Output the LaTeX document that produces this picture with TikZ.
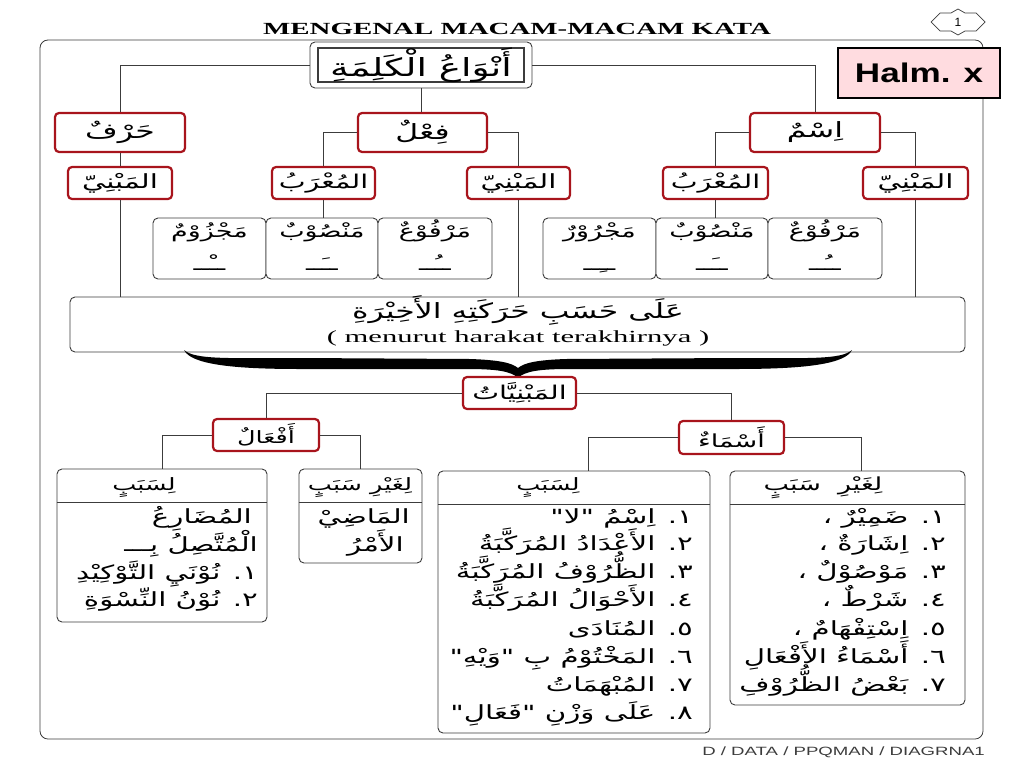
\documentclass[tikz,border=0pt]{standalone}
\usepackage{fontspec}
\setmainfont{Liberation Serif}
\newfontfamily\arabicfont[Script=Arabic,FakeStretch=1.5]{DejaVu Sans}
\newfontfamily\titlefont[FakeStretch=1.7]{Liberation Serif}
\newfontfamily\latinfont[FakeStretch=1.8]{Liberation Serif}
\newfontfamily\sansfont{Liberation Sans}
\TeXXeTstate=1
\usetikzlibrary{calc}
\definecolor{boxred}{HTML}{A8141C}
\definecolor{linegray}{HTML}{3C3C3C}
\definecolor{halmpink}{HTML}{FFDCE0}
\newcommand\AR[1]{{\arabicfont\beginR #1\endR}}
\newcommand\fs[1]{\fontsize{#1}{#1}\selectfont}
% box from corner (x1,y1) to (x2,y2)
\newcommand\BOX[7]{%
  \pgfmathsetmacro\BXw{#5-#3}\pgfmathsetmacro\BXh{#6-#4}%
  \pgfmathsetmacro\BXx{(#3+#5)/2}\pgfmathsetmacro\BXy{(#4+#6)/2}%
  \node[#1, minimum width=\BXw pt, minimum height=\BXh pt] (#2) at (\BXx,\BXy) {#7};}
\tikzset{
  redbox/.style={draw=boxred, line width=2.2pt, rounded corners=4pt, fill=white, inner sep=0pt},
  graybox/.style={draw=linegray, line width=0.9pt, rounded corners=5pt, fill=white, inner sep=0pt},
  conn/.style={draw=linegray, line width=0.9pt},
  artext/.style={inner sep=0pt, text height=12pt, text depth=5pt, font=\fs{17}},
  item/.style={artext, anchor=east, font=\fs{19.5}},
}
\begin{document}
\begin{tikzpicture}[x=1pt,y=-1pt]
\useasboundingbox (0,0) rectangle (1024,768);
% frame
\BOX{draw=linegray, line width=0.8pt, rounded corners=8pt, inner sep=0pt}{frame}{40}{40}{983}{739}{}
% title
\node (title) at (517,29) {\titlefont\bfseries\fs{17}MENGENAL MACAM-MACAM KATA};
% badge
\draw[linegray, line width=0.7pt, fill=white] (931,22) -- (940,13) -- (951,13) -- (958,9) -- (965,13) -- (976,13) -- (985,22) -- (976,31) -- (965,31) -- (958,35) -- (951,31) -- (940,31) -- cycle;
\node (badge) at (958,22) {\sansfont\fs{12}1};
% halm
\BOX{draw=black, line width=1.8pt, fill=halmpink, inner sep=0pt}{halm}{838}{48}{1000}{98}{\sansfont\bfseries\fs{27}\scalebox{1.3}[1]{Halm. x}}
% top box
\BOX{graybox}{kalimah}{310}{42}{532}{88}{}
\BOX{draw=linegray, line width=2pt, fill=white, inner sep=0pt, font=\fs{25}}{kalimahin}{318}{48}{524}{82}{\AR{أَنْوَاعُ الْكَلِمَةِ}}
% level 1
\BOX{redbox, font=\fs{21}}{harf}{55}{113}{185}{152}{\AR{حَرْفٌ}}
\BOX{redbox, font=\fs{21}}{fil}{358}{113}{487}{152}{\AR{فِعْلٌ}}
\BOX{redbox, font=\fs{21}}{ism}{750}{113}{880}{152}{\AR{اِسْمٌ}}
% level 2
\BOX{redbox, font=\fs{19.5}}{hmb}{68}{167}{172}{199}{\AR{المَبْنِيّ}}
\BOX{redbox, font=\fs{19}}{fmu}{272}{167}{375}{199}{\AR{المُعْرَبُ}}
\BOX{redbox, font=\fs{19.5}}{fmb}{467}{167}{570}{199}{\AR{المَبْنِيّ}}
\BOX{redbox, font=\fs{19}}{imu}{663}{167}{768}{199}{\AR{المُعْرَبُ}}
\BOX{redbox, font=\fs{19.5}}{imb}{863}{167}{968}{199}{\AR{المَبْنِيّ}}
% level 3 small boxes
\BOX{graybox}{fjz}{153}{218}{266}{279}{}
\BOX{graybox}{fns}{266}{218}{378}{279}{}
\BOX{graybox}{frf}{378}{218}{492}{279}{}
\BOX{graybox}{ijr}{543}{218}{656}{279}{}
\BOX{graybox}{ins}{656}{218}{768}{279}{}
\BOX{graybox}{irf}{768}{218}{882}{279}{}
\tikzset{smw/.style={artext, font=\fs{18}}, smd/.style={artext, font=\fs{18}}}
\node[smw] (fjzw) at ($(fjz.north)+(0,16)$) {\AR{مَجْزُوْمٌ}};
\node[smw] (fnsw) at ($(fns.north)+(0,16)$) {\AR{مَنْصُوْبٌ}};
\node[smw] (frfw) at ($(frf.north)+(0,16)$) {\AR{مَرْفُوْعٌ}};
\node[smw] (ijrw) at ($(ijr.north)+(0,16)$) {\AR{مَجْرُوْرٌ}};
\node[smw] (insw) at ($(ins.north)+(0,16)$) {\AR{مَنْصُوْبٌ}};
\node[smw] (irfw) at ($(irf.north)+(0,16)$) {\AR{مَرْفُوْعٌ}};
\node[smd] (fjzd) at ($(fjz.south)+(0,-12)$) {\AR{ــْــ}};
\node[smd] (fnsd) at ($(fns.south)+(0,-12)$) {\AR{ــَــ}};
\node[smd] (frfd) at ($(frf.south)+(0,-12)$) {\AR{ــُــ}};
\node[smd] (ijrd) at ($(ijr.south)+(0,-12)$) {\AR{ــِــ}};
\node[smd] (insd) at ($(ins.south)+(0,-12)$) {\AR{ــَــ}};
\node[smd] (irfd) at ($(irf.south)+(0,-12)$) {\AR{ــُــ}};
% big box
\BOX{graybox}{big}{70}{297}{965}{352}{}
\node[artext, font=\fs{21}] (bigar) at (518,315) {\AR{عَلَى حَسَبِ حَرَكَتِهِ الأَخِيْرَةِ}};
\node[inner sep=0pt] (biglat) at (518,338) {\latinfont\fs{17}( menurut harakat terakhirnya )};
% connectors top part
\draw[conn] (kalimah.west) -| (harf.north);
\draw[conn] (kalimah.east) -| (ism.north);
\draw[conn] (kalimah.south) -- (kalimah.south |- fil.north);
\draw[conn] (harf.south) -- (harf.south |- hmb.north);
\draw[conn] (hmb.south) -- (hmb.south |- big.north);
\draw[conn] (fil.west) -| (fmu.north);
\draw[conn] (fil.east) -| (fmb.north);
\draw[conn] (fmu.south) -- (fmu.south |- fns.north);
\draw[conn] (fmb.south) -- (fmb.south |- big.north);
\draw[conn] (ism.west) -| (imu.north);
\draw[conn] (ism.east) -| (imb.north);
\draw[conn] (imu.south) -- (imu.south |- ins.north);
\draw[conn] (imb.south) -- (imb.south |- big.north);
% brace
\fill[black] (184,350) .. controls (195,360) and (230,358) .. (300,358) -- (470,359)
  .. controls (500,360) and (512,363) .. (518,368)
  .. controls (524,363) and (536,360) .. (566,359) -- (736,358)
  .. controls (806,358) and (841,360) .. (852,350)
  .. controls (845,364) and (806,369) .. (736,369) -- (570,369)
  .. controls (540,369) and (525,371) .. (518,378)
  .. controls (511,371) and (496,369) .. (466,369) -- (300,369)
  .. controls (230,369) and (191,364) .. (184,350) -- cycle;
% mabniyyat
\BOX{redbox, font=\fs{19}}{mabn}{463}{377}{576}{409}{\AR{المَبْنِيَّاتُ}}
\BOX{redbox, font=\fs{17}}{afal}{213}{419}{319}{451}{\AR{أَفْعَالٌ}}
\BOX{redbox, font=\fs{18}}{asma}{679}{421}{784}{454}{\AR{أَسْمَاءٌ}}
\draw[conn] (mabn.west) -| (afal.north);
\draw[conn] (mabn.east) -| (asma.north);
% cards
\BOX{graybox}{fsab}{57}{469}{267}{622}{}
\BOX{graybox}{fgh}{299}{469}{422}{563}{}
\BOX{graybox}{isab}{438}{471}{710}{733}{}
\BOX{graybox}{igh}{730}{471}{965}{705}{}
\draw[conn] (afal.west) -| (fsab.north);
\draw[conn] (afal.east) -| (fgh.north);
\draw[conn] (asma.west) -| ($(isab.north)+(14,0)$);
\draw[conn] (asma.east) -| ($(igh.north)+(14,0)$);
\foreach \c in {fsab,fgh,isab,igh}{
  \draw[conn] ($(\c.north west)+(0,34)$) -- ($(\c.north east)+(0,34)$);
}
% headers
\node[artext] (hfsab) at (144,487) {\AR{لِسَبَبٍ}};
\node[artext] (hfgh) at (360,487) {\AR{لِغَيْرِ سَبَبٍ}};
\node[artext] (hisab) at (548,487) {\AR{لِسَبَبٍ}};
\node[artext, font=\fs{18}] (high) at (823,487) {\AR{لِغَيْرِ\ \ سَبَبٍ}};
% fi'l lisabab
\node[item] (f1) at (252,520) {\AR{المُضَارِعُ}};
\node[item] (f2) at (258,548) {\AR{الْمُتَّصِلُ بِـــ}};
\node[item] (f3) at (258,576) {\AR{١. نُوْنَيِ التَّوْكِيْدِ}};
\node[item] (f4) at (258,603) {\AR{٢. نُوْنُ النِّسْوَةِ}};
% fi'l lighairi
\node[item] (g1) at (410,520) {\AR{المَاضِيْ}};
\node[item] (g2) at (404,548) {\AR{الأَمْرُ}};
% ism lisabab
\node[item] (s1) at (693,520) {\AR{١. اِسْمُ "لا"}};
\node[item] (s2) at (693,547) {\AR{٢. الأَعْدَادُ المُرَكَّبَةُ}};
\node[item] (s3) at (693,575) {\AR{٣. الظُّرُوْفُ المُرَكَّبَةُ}};
\node[item] (s4) at (693,603) {\AR{٤. الأَحْوَالُ المُرَكَّبَةُ}};
\node[item] (s5) at (693,632) {\AR{٥. المُنَادَى}};
\node[item] (s6) at (693,660) {\AR{٦. المَخْتُوْمُ بِ "وَيْهِ"}};
\node[item] (s7) at (693,688) {\AR{٧. المُبْهَمَاتُ}};
\node[item] (s8) at (693,716) {\AR{٨. عَلَى وَزْنِ "فَعَالِ"}};
% ism lighairi
\node[item] (t1) at (946,520) {\AR{١. ضَمِيْرٌ ،}};
\node[item] (t2) at (946,547) {\AR{٢. اِشَارَةٌ ،}};
\node[item] (t3) at (946,575) {\AR{٣. مَوْصُوْلٌ ،}};
\node[item] (t4) at (946,603) {\AR{٤. شَرْطٌ ،}};
\node[item] (t5) at (946,632) {\AR{٥. اِسْتِفْهَامٌ ،}};
\node[item] (t6) at (946,660) {\AR{٦. أَسْمَاءُ الأَفْعَالِ}};
\node[item] (t7) at (946,688) {\AR{٧. بَعْضُ الظُّرُوْفِ}};
% footer
\node[anchor=east, inner sep=0pt, text=linegray] (footer) at (985,752) {\sansfont\fs{12}\scalebox{1.55}[1]{D / DATA / PPQMAN / DIAGRNA1}};
\end{tikzpicture}
\end{document}
